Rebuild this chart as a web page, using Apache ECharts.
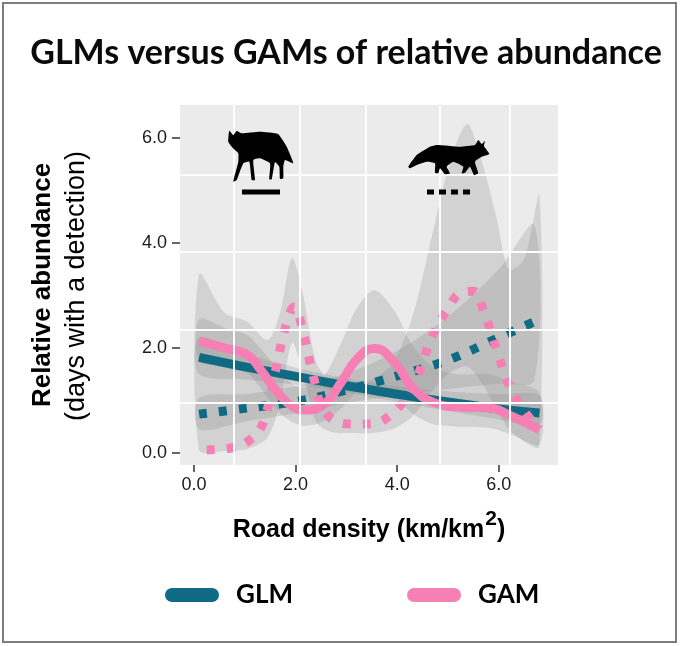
<!DOCTYPE html>
<html>
<head>
    <meta charset="utf-8">
    <title>GLMs versus GAMs</title>
    <script src="https://cdn.jsdelivr.net/npm/echarts@6/dist/echarts.min.js"></script>
    <style>
        html, body { margin: 0; padding: 0; background: #fff; }
    </style>
</head>
<body>
    <div id="main" style="width: 680px;height:646px;"></div>
    <script type="text/javascript">

    // tick labels
    var xTicks = [0, 2, 4, 6];
    var yTicks = [0, 2, 4, 6];
    // white grid lines as they sit in the picture
    var gridX = [0.79, 2.09, 3.38, 4.84, 6.21];
    var gridY = [0.95, 2.34, 3.83, 5.30];

    // GLM, coyote (solid) and fox (dotted)
    var glmCoyoteX = [0.1, 1.0, 2.0, 3.0, 4.0, 5.0, 6.0, 6.8];
    var glmCoyote   = [1.82, 1.64, 1.46, 1.28, 1.12, 0.97, 0.84, 0.76];
    var glmCoyoteLo = [1.50, 1.40, 1.30, 1.15, 0.97, 0.80, 0.64, 0.54];
    var glmCoyoteUp = [2.20, 1.90, 1.63, 1.42, 1.27, 1.17, 1.12, 1.10];

    var glmFoxX = [0.1, 1.0, 2.0, 3.0, 4.0, 5.0, 6.0, 6.7];
    var glmFox   = [0.74, 0.85, 0.98, 1.20, 1.47, 1.77, 2.20, 2.50];
    var glmFoxLo = [0.45, 0.60, 0.75, 0.95, 1.10, 1.22, 1.32, 1.38];
    var glmFoxUp = [1.05, 1.12, 1.27, 1.52, 1.95, 2.60, 3.50, 4.35];

    // GAM, coyote (solid)
    var gamCoyoteX  = [0.1, 0.6, 1.05, 1.3, 1.65, 1.95, 2.2, 2.55, 2.9, 3.2, 3.55, 3.95, 4.3, 4.7, 5.2, 5.8, 6.25, 6.8];
    var gamCoyote   = [2.13, 2.00, 1.87, 1.60, 1.15, 0.88, 0.82, 0.92, 1.35, 1.78, 1.99, 1.72, 1.25, 0.97, 0.88, 0.86, 0.70, 0.44];
    var gamCoyoteLo = [1.75, 1.66, 1.52, 1.25, 0.80, 0.58, 0.52, 0.60, 0.85, 1.15, 1.28, 1.10, 0.75, 0.55, 0.50, 0.48, 0.35, 0.16];
    var gamCoyoteUp = [2.55, 2.38, 2.25, 2.00, 1.60, 1.30, 1.25, 1.45, 2.10, 2.75, 3.10, 2.70, 2.05, 1.65, 1.50, 1.50, 1.35, 1.15];

    // GAM, fox (dotted)
    var gamFoxX = [0.25, 0.75, 1.1, 1.35, 1.6, 1.8, 1.97, 2.15, 2.35, 2.6, 3.1, 3.5, 3.9, 4.3, 4.7, 5.0, 5.25, 5.5, 5.7, 5.95, 6.2, 6.5, 6.8];
    var gamFox  = [0.06, 0.10, 0.25, 0.55, 1.55, 2.40, 2.78, 2.30, 1.45, 0.75, 0.55, 0.56, 0.75, 1.25, 2.25, 2.75, 3.05, 3.08, 2.70, 2.00, 1.30, 0.80, 0.45];
    var gamFoxBandX = [0.1, 0.6, 1.05, 1.45, 1.7, 1.93, 2.15, 2.4, 2.7, 3.1, 3.5, 3.9, 4.3, 4.7, 5.0, 5.37, 5.65, 5.95, 6.2, 6.5, 6.8];
    var gamFoxLo = [0.06, 0.04, 0.08, 0.30, 1.00, 2.10, 1.50, 0.60, 0.40, 0.38, 0.38, 0.45, 0.70, 1.20, 1.50, 1.65, 1.35, 0.85, 0.45, 0.22, 0.12];
    var gamFoxUp = [3.40, 2.67, 2.50, 2.15, 2.70, 3.72, 3.00, 1.75, 1.35, 1.30, 1.40, 1.70, 2.60, 4.20, 5.40, 6.27, 5.60, 4.50, 3.50, 3.70, 4.90];

    var teal = '#0f6a84';
    var pink = '#f680b4';

    var bands = [
        { x: gamFoxBandX, lo: gamFoxLo, up: gamFoxUp },
        { x: glmFoxX, lo: glmFoxLo, up: glmFoxUp },
        { x: gamCoyoteX, lo: gamCoyoteLo, up: gamCoyoteUp },
        { x: glmCoyoteX, lo: glmCoyoteLo, up: glmCoyoteUp }
    ];

    function pairs(xs, ys) {
        return xs.map(function (x, i) { return [x, ys[i]]; });
    }

    function curve(name, xs, ys, color, dash, smooth) {
        return {
            type: 'line', name: name, data: pairs(xs, ys), symbol: 'none',
            smooth: smooth, z: 3, silent: true,
            lineStyle: { color: color, width: 9, type: dash ? [8, 12] : 'solid', cap: 'butt', join: 'round' },
            itemStyle: { color: color }
        };
    }

    var gridMarks = gridX.map(function (v) { return { xAxis: v }; })
        .concat(gridY.map(function (v) { return { yAxis: v }; }));

    var series = [{
        type: 'line', name: 'grid', data: [[0, -5]], symbol: 'none', silent: true, z: 0,
        lineStyle: { opacity: 0 },
        markLine: {
            silent: true, symbol: ['none', 'none'], label: { show: false },
            lineStyle: { color: '#fdfdfd', width: 2, type: 'solid' },
            emphasis: { disabled: true },
            data: gridMarks
        }
    }, {
        // grey confidence bands, one polygon each
        type: 'custom', name: 'bands', silent: true, z: 1,
        data: bands.map(function (b, i) { return [i, 0]; }),
        renderItem: function (params, api) {
            var b = bands[params.dataIndex];
            var pts = [];
            for (var i = 0; i < b.x.length; i++) pts.push(api.coord([b.x[i], b.up[i]]));
            for (var j = b.x.length - 1; j >= 0; j--) pts.push(api.coord([b.x[j], b.lo[j]]));
            return {
                type: 'polygon',
                shape: { points: pts, smooth: 0.3 },
                style: { fill: 'rgba(140,140,140,0.26)' }
            };
        }
    }];
    series.push(curve('GLM', glmCoyoteX, glmCoyote, teal, false, 0.4));
    series.push(curve('GLM fox', glmFoxX, glmFox, teal, true, 0.4));
    series.push(curve('GAM fox', gamFoxX, gamFox, pink, true, 0.4));
    series.push(curve('GAM', gamCoyoteX, gamCoyote, pink, false, 0.5));

    var pill = 'path://M7,0 L47,0 A7,7 0 0 1 47,14 L7,14 A7,7 0 0 1 7,0 Z';
    var legendText = { fontFamily: 'Lato', fontWeight: 'bold', fontSize: 26, color: '#000', padding: [0, 0, 0, 12] };

    // silhouettes (local outline points)
    var coyote = [[1.3,0.7],[5.3,5],[8.7,1],[13.7,3.3],[32,1.7],[50,4],[58.7,16.7],[65.3,33.3],[57,30],
        [55.3,36.7],[55.3,48.3],[52,49],[51.3,36.7],[47,32],[43.7,49.3],[41.3,49.3],[42,33.3],[32,28.3],
        [25.3,30],[27,50],[23.7,50],[21.3,31.7],[15.3,33.3],[8.7,50],[5.3,51.7],[10.3,31.7],[10.3,23.3],
        [7,20],[3.7,16.7],[0.3,11.7]];
    var fox = [[0.3,26.7],[8.7,15],[22,6.7],[28.7,5],[52,6.7],[67,5],[70.3,0],[73.7,4],[77,0.7],[76,6],
        [81.3,14],[73.7,16.7],[67,21.7],[70.3,33.3],[66,35],[62,26.7],[57,32.7],[53.7,33.3],[55.3,26.7],
        [45.3,21.7],[38.7,26.7],[42,33.3],[37,34.3],[32,28.3],[30.3,33.3],[27,32.7],[27,23.3],[18.7,21.7],
        [8.7,25],[2,28.3]];

    var myChart = echarts.init(document.getElementById('main'));

    var option = {
        animation: false,
        backgroundColor: '#fff',
        title: {
            text: 'GLMs versus GAMs of relative abundance',
            left: 341, top: 31, textAlign: 'center',
            textStyle: { fontFamily: 'Lato', fontWeight: 'bold', fontSize: 34, color: '#0a0a0a' }
        },
        legend: [{
            left: 160, top: 577, itemWidth: 54, itemHeight: 14, selectedMode: false,
            textStyle: legendText,
            data: [{ name: 'GLM', icon: pill, itemStyle: { color: teal, borderWidth: 0 } }]
        }, {
            left: 402, top: 577, itemWidth: 54, itemHeight: 14, selectedMode: false,
            textStyle: legendText,
            data: [{ name: 'GAM', icon: pill, itemStyle: { color: pink, borderWidth: 0 } }]
        }],
        grid: {
            left: 180, right: 122, top: 105, bottom: 181,
            show: true, backgroundColor: '#ebebeb', borderWidth: 0
        },
        xAxis: {
            type: 'value', min: -0.276, max: 7.165,
            axisLine: { show: false, onZero: false },
            splitLine: { show: false },
            axisTick: { show: true, customValues: xTicks, length: 7, lineStyle: { color: '#333', width: 1.5 } },
            axisLabel: {
                customValues: xTicks, margin: 11, fontSize: 18, color: '#1a1a1a', fontFamily: 'Liberation Sans',
                formatter: function (v) { return v.toFixed(1); }
            },
            name: '{t|Road density (km/km}{s|2}{t|)}',
            nameLocation: 'middle', nameGap: 48,
            nameTextStyle: {
                rich: {
                    t: { fontFamily: 'Liberation Sans', fontWeight: 'bold', fontSize: 25, color: '#000', lineHeight: 30, verticalAlign: 'bottom' },
                    s: { fontFamily: 'Liberation Sans', fontWeight: 'bold', fontSize: 21, color: '#000', lineHeight: 21, padding: [0, 0, 13, 1], verticalAlign: 'bottom' }
                }
            }
        },
        yAxis: {
            type: 'value', min: -0.229, max: 6.63,
            axisLine: { show: false, onZero: false },
            splitLine: { show: false },
            axisTick: { show: true, customValues: yTicks, length: 8, lineStyle: { color: '#333', width: 1.5 } },
            axisLabel: {
                customValues: yTicks, margin: 13, fontSize: 18, color: '#1a1a1a', fontFamily: 'Liberation Sans',
                formatter: function (v) { return v.toFixed(1); }
            }
        },
        graphic: [
            {
                type: 'rect', shape: { x: 3, y: 3, width: 673, height: 639 },
                style: { fill: 'none', stroke: '#7d7d7d', lineWidth: 2 }, silent: true, z: 10
            },
            {
                type: 'text', x: 43, y: 285, rotation: Math.PI / 2,
                style: { text: 'Relative abundance', fontFamily: 'Liberation Sans', fontWeight: 'bold', fontSize: 26, fill: '#000', align: 'center', verticalAlign: 'middle' }
            },
            {
                type: 'text', x: 77, y: 286, rotation: Math.PI / 2,
                style: { text: '(days with a detection)', fontFamily: 'Liberation Sans', fontSize: 27, fill: '#000', align: 'center', verticalAlign: 'middle' }
            },
            {
                type: 'polygon', x: 228, y: 130, z: 20, silent: true,
                shape: { points: coyote, smooth: 0.15 }, style: { fill: '#000' }
            },
            {
                type: 'line', z: 20, silent: true, shape: { x1: 242, y1: 192, x2: 280, y2: 192 },
                style: { stroke: '#000', lineWidth: 5 }
            },
            {
                type: 'polygon', x: 408, y: 140, z: 20, silent: true,
                shape: { points: fox, smooth: 0.15 }, style: { fill: '#000' }
            },
            {
                type: 'line', z: 20, silent: true, shape: { x1: 427, y1: 192, x2: 470, y2: 192 },
                style: { stroke: '#000', lineWidth: 5, lineDash: [7, 5] }
            }
        ],
        series: series
    };

    myChart.setOption(option);
    </script>
</body>
</html>
